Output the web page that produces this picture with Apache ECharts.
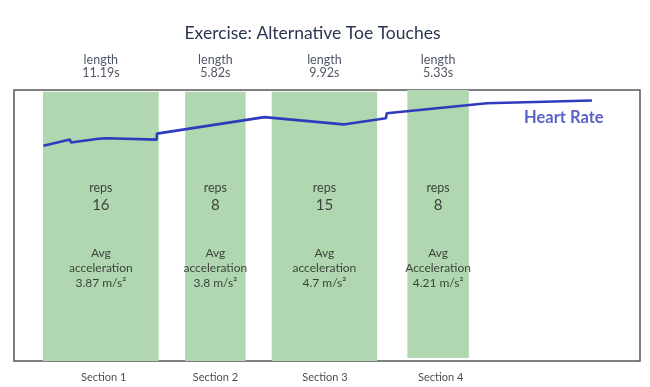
<!DOCTYPE html>
<html>
<head>
<meta charset="utf-8">
<script src="https://cdn.jsdelivr.net/npm/echarts@6/dist/echarts.min.js"></script>
<style>html,body{margin:0;padding:0;background:#fff}#c{width:650px;height:387px}</style>
</head>
<body>
<div id="c"></div>
<script>
// ---- data ----
var sectionNames = ['Section 1', 'Section 2', 'Section 3', 'Section 4'];
var sectionStart = [2.78, 16.4, 24.7, 37.7];    // seconds
var sectionEnd = [13.87, 22.2, 34.8, 43.6];     // seconds
var lengths = ['11.19s', '5.82s', '9.92s', '5.33s'];
var reps = [16, 8, 15, 8];
var accel = [3.87, 3.8, 4.7, 4.21];
var accelWord = ['acceleration', 'acceleration', 'acceleration', 'Acceleration'];
var sectionLabelX = [8.6, 19.3, 29.8, 40.9];
var hrTime = [2.81, 5.37, 5.46, 8.08, 8.89, 13.68, 13.7, 24.0, 31.57, 35.64, 35.73, 45.32, 55.39];
var hrValue = [119.4, 121.7, 120.6, 122.0, 122.2, 121.7, 123.9, 130.0, 127.3, 129.6, 131.4, 135.1, 136.1];

var FONT = 'Lato, "Noto Sans", sans-serif';
var TXT = '#2b3550';
var mid = sectionStart.map(function (s, i) { return (s + sectionEnd[i]) / 2; });

var chart = echarts.init(document.getElementById('c'), null, { renderer: 'canvas' });

function textSeries(name, points, labelOpt) {
  return {
    type: 'scatter', name: name, symbolSize: 0, clip: false, silent: true, z: 5,
    data: points,
    label: Object.assign({ show: true, position: 'inside', fontFamily: FONT, color: TXT }, labelOpt)
  };
}

var option = {
  animation: false,
  graphic: [{
    type: 'text', x: 312.5, y: 33,
    style: { text: 'Exercise: Alternative Toe Touches', textAlign: 'center', textVerticalAlign: 'middle',
      fontFamily: FONT, fontSize: 17.5, fill: TXT }
  }],
  grid: { left: 14, top: 90, width: 626, height: 271, show: true, borderColor: '#555', borderWidth: 1.5, backgroundColor: 'transparent' },
  xAxis: { type: 'value', min: 0, max: 60, show: false },
  yAxis: { type: 'value', min: 40, max: 140, show: false },
  series: [
    {
      type: 'line', name: 'areas', data: [], z: 1,
      markArea: {
        silent: true,
        itemStyle: { color: '#b1d7b1' },
        data: sectionStart.map(function (s, i) {
          return [{ xAxis: s, yAxis: i === 3 ? 140 : 139.4 }, { xAxis: sectionEnd[i], yAxis: i === 3 ? 41.1 : 40 }];
        })
      }
    },
    {
      type: 'line', name: 'Heart Rate', z: 3,
      data: hrTime.map(function (t, i) { return [t, hrValue[i]]; }),
      showSymbol: false, symbol: 'none',
      lineStyle: { color: '#2f3bbd', width: 2.6 }
    },
    textSeries('hrLabel', [[52.7, 129.9]], {
      formatter: 'Heart Rate', fontSize: 16.5, fontWeight: 'bold', color: '#3038b8'
    }),
    textSeries('lengths', mid.map(function (m, i) { return [m, 148.5, i]; }), {
      formatter: function (p) { return 'length\n' + lengths[p.data[2]]; },
      fontSize: 12.5, lineHeight: 13, color: '#222a40'
    }),
    textSeries('reps', mid.map(function (m, i) { return [m, 100.7, i]; }), {
      formatter: function (p) { return '{a|reps}\n{b|' + reps[p.data[2]] + '}'; },
      rich: {
        a: { fontFamily: FONT, fontSize: 12.5, color: '#1a1a1a', lineHeight: 17, align: 'center' },
        b: { fontFamily: FONT, fontSize: 15, color: '#1a1a1a', lineHeight: 17, align: 'center' }
      }
    }),
    textSeries('accel', mid.map(function (m, i) { return [m, 74.3, i]; }), {
      formatter: function (p) { var i = p.data[2]; return 'Avg\n' + accelWord[i] + '\n' + accel[i] + ' m/s\u00b2'; },
      fontSize: 12, lineHeight: 15, color: '#1a1a1a'
    }),
    textSeries('sections', sectionLabelX.map(function (x, i) { return [x, 34.1, i]; }), {
      formatter: function (p) { return sectionNames[p.data[2]]; },
      fontSize: 11, color: '#1a1a1a'
    })
  ]
};
chart.setOption(option);
</script>
</body>
</html>
